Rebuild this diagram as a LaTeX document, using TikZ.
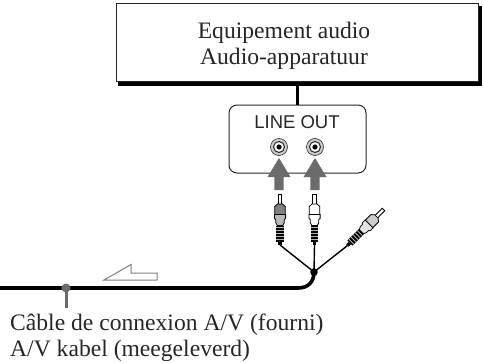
\documentclass[tikz,border=0pt]{standalone}
\usepackage{fontspec}
\setmainfont{Liberation Serif}
\newfontfamily\lsans{Liberation Sans}
\definecolor{darkg}{gray}{0.42}
\definecolor{midg}{gray}{0.5}
\definecolor{lightg}{gray}{0.8}
\definecolor{txt}{gray}{0.15}
\tikzset{
  serifl/.style={font=\fontsize{23.6}{25.5}\selectfont,text=txt,inner sep=0pt,align=left},
  wire/.style={line width=1.4pt,draw=black},
  pluglines/.style={line width=0.8pt,draw=black},
  bigarrow/.style={fill=darkg,draw=none},
}
\newcommand{\plugshape}[1]{%
  \filldraw[fill=white,pluglines] (-1.8,-25.5) -- (-1.8,-15) -- (1.8,-15) -- (1.8,-25.5) -- cycle;
  \filldraw[fill=#1,pluglines] (-5.3,-5) -- (-5.3,-13) -- (-2.5,-15.5) -- (2.5,-15.5) -- (5.3,-13) -- (5.3,-5) -- cycle;
  \filldraw[fill=#1!55!white,pluglines] (-5.6,-5) -- (5.6,-5) -- (5.6,-1) -- (4.3,0) -- (4.3,3) -- (2.8,6) -- (-2.8,6) -- (-4.3,3) -- (-4.3,0) -- (-5.6,-1) -- cycle;
  \fill[black] (-3.6,6) rectangle (3.6,22);
  \foreach \yy in {8,11,14,17,20}{\draw[white!70!black,line width=0.8pt] (-3.6,\yy) -- (3.6,\yy);}
  \fill[black] (-1.6,22) rectangle (1.6,25.5);
}
\begin{document}
\begin{tikzpicture}[x=1pt,y=-1pt]
\useasboundingbox (0,0) rectangle (484,362);
% equipment box with drop shadow
\fill[black] (118,6) rectangle (482,85.7);
\node[draw=black!85,fill=white,line width=1pt,inner sep=0pt,anchor=north west,
  minimum height=78.5pt,minimum width=361.5pt] (equip) at (116,2.7) {};
\node[serifl,align=center] (equiptext) at (284,45.5) {Equipement audio\\[0.5pt]Audio-apparatuur};
% panel
\node[draw=black!85,line width=1pt,rounded corners=8pt,inner sep=0pt,minimum width=137pt,minimum height=68pt] (panel) at (297.5,139) {};
\draw[black,line width=2.4pt] (equip.south -| panel.north) -- (panel.north);
\node[font=\lsans\fontsize{18.5}{20}\selectfont,text=black!85,inner sep=0pt] (lineout) at (297,122.5) {LINE OUT};
% jacks
\foreach \n/\xx in {jl/279,jr/315}{
  \node[circle,draw=black!75,fill=lightg,line width=0.7pt,minimum size=17pt,inner sep=0pt] (\n) at (\xx,147) {};
  \node[circle,draw=black!80,fill=white,line width=1.1pt,minimum size=11pt,inner sep=0pt] at (\xx,147) {};
  \fill[black] (\xx,147) circle (2.6);
}
% arrows
\foreach \xx in {279,315}{
  \fill[bigarrow] (\xx,158) -- (\xx+11.5,177) -- (\xx+4.6,177) -- (\xx+4.6,190) -- (\xx-4.6,190) -- (\xx-4.6,177) -- (\xx-11.5,177) -- cycle;
}
% plugs
\coordinate (junction) at (314,272);
\begin{scope}[shift={(280,219.5)}]
  \coordinate (p1) at (0,25.5);
  \plugshape{midg}
\end{scope}
\begin{scope}[shift={(314.5,219.5)}]
  \coordinate (p2) at (0,25.5);
  \plugshape{white}
\end{scope}
\begin{scope}[shift={(365.5,227.5)},rotate=-45]
  \coordinate (p3) at (0,25.5);
  \plugshape{lightg}
\end{scope}
\draw[wire] (p1) -- (junction);
\draw[wire] (p2) -- (junction);
\draw[wire] (p3) -- (junction);
\fill[black] (junction) circle (3.8);
% cable
\coordinate (cableend) at (0,288);
\draw[black,line width=3.6pt] (junction) .. controls (314,282) and (308,288) .. (298,288) -- (cableend);
% direction arrow
\draw[midg,line width=1pt,fill=white,line join=miter] (104,280) -- (131,264.5) -- (131,273) -- (157,273) -- (157,280) -- cycle;
% callout
\coordinate (callend) at (66,308);
\fill[darkg] (66,288) circle (4.5);
\draw[darkg,line width=3pt] (66,288) -- (callend);
% label
\node[serifl,anchor=north west] (label) at (10,314) {Câble de connexion A/V (fourni)\\A/V kabel (meegeleverd)};
\end{tikzpicture}
\end{document}
